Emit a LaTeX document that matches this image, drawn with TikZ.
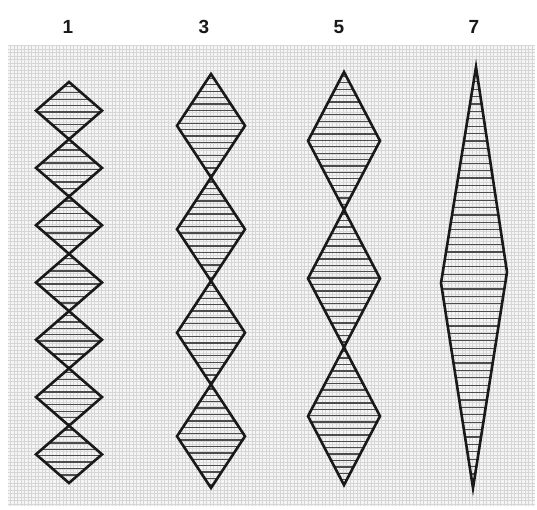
\documentclass[tikz,border=0pt]{standalone}
\usepackage{fontspec}
\setsansfont{Liberation Sans}
\begin{document}
\begin{tikzpicture}[x=1pt,y=-1pt,
  outline/.style={line width=2.6pt, black!90, line join=miter, miter limit=20},
  hatch/.style={line width=1.3pt, black!70},
  lbl/.style={font=\sffamily\bfseries\fontsize{19}{22}\selectfont, text=black!90},
  paper/.style={fill=gray!8},
  weave/.style={gray!32, line width=0.35pt}]
\useasboundingbox (0,0) rectangle (537,510);
\fill[white] (0,0) rectangle (537,510);
% textured paper
\fill[paper] (8,45) rectangle (535,506);
\begin{scope}
  \clip (8,45) rectangle (535,506);
  \draw[weave, step=3.5pt] (8,45) grid (535,506);
\end{scope}
% labels
\node[lbl] (l1) at (68,27) {1};
\node[lbl] (l3) at (204,27) {3};
\node[lbl] (l5) at (339,27) {5};
\node[lbl] (l7) at (474,27) {7};
% diamond columns
\foreach \cx/\tp/\bt/\n/\hw in {69/82/483/7/33, 211/74/488/4/34, 344/72/485/3/36}{
  \pgfmathsetmacro\hh{(\bt-\tp)/\n}
  \foreach \i in {1,...,\n}{
    \pgfmathsetmacro\ta{\tp+(\i-1)*\hh}
    \pgfmathsetmacro\ma{\ta+\hh/2}
    \pgfmathsetmacro\ba{\ta+\hh}
    \begin{scope}
      \clip (\cx,\ta) -- (\cx+\hw,\ma) -- (\cx,\ba) -- (\cx-\hw,\ma) -- cycle;
      \foreach \k in {1,...,25}{
        \draw[hatch] (\cx-\hw,\ta+\k*6.4-2) -- (\cx+\hw,\ta+\k*6.4-2);
      }
    \end{scope}
    \draw[outline] (\cx,\ta) -- (\cx+\hw,\ma) -- (\cx,\ba) -- (\cx-\hw,\ma) -- cycle;
  }
}
% long spindle (7)
\begin{scope}
  \clip (476,67) -- (507,272) -- (473,488) -- (441,283) -- cycle;
  \foreach \k in {1,...,60}{
    \draw[hatch] (440,67+\k*7.4) -- (508,67+\k*7.4);
  }
\end{scope}
\draw[outline] (476,67) -- (507,272) -- (473,488) -- (441,283) -- cycle;
\end{tikzpicture}
\end{document}
